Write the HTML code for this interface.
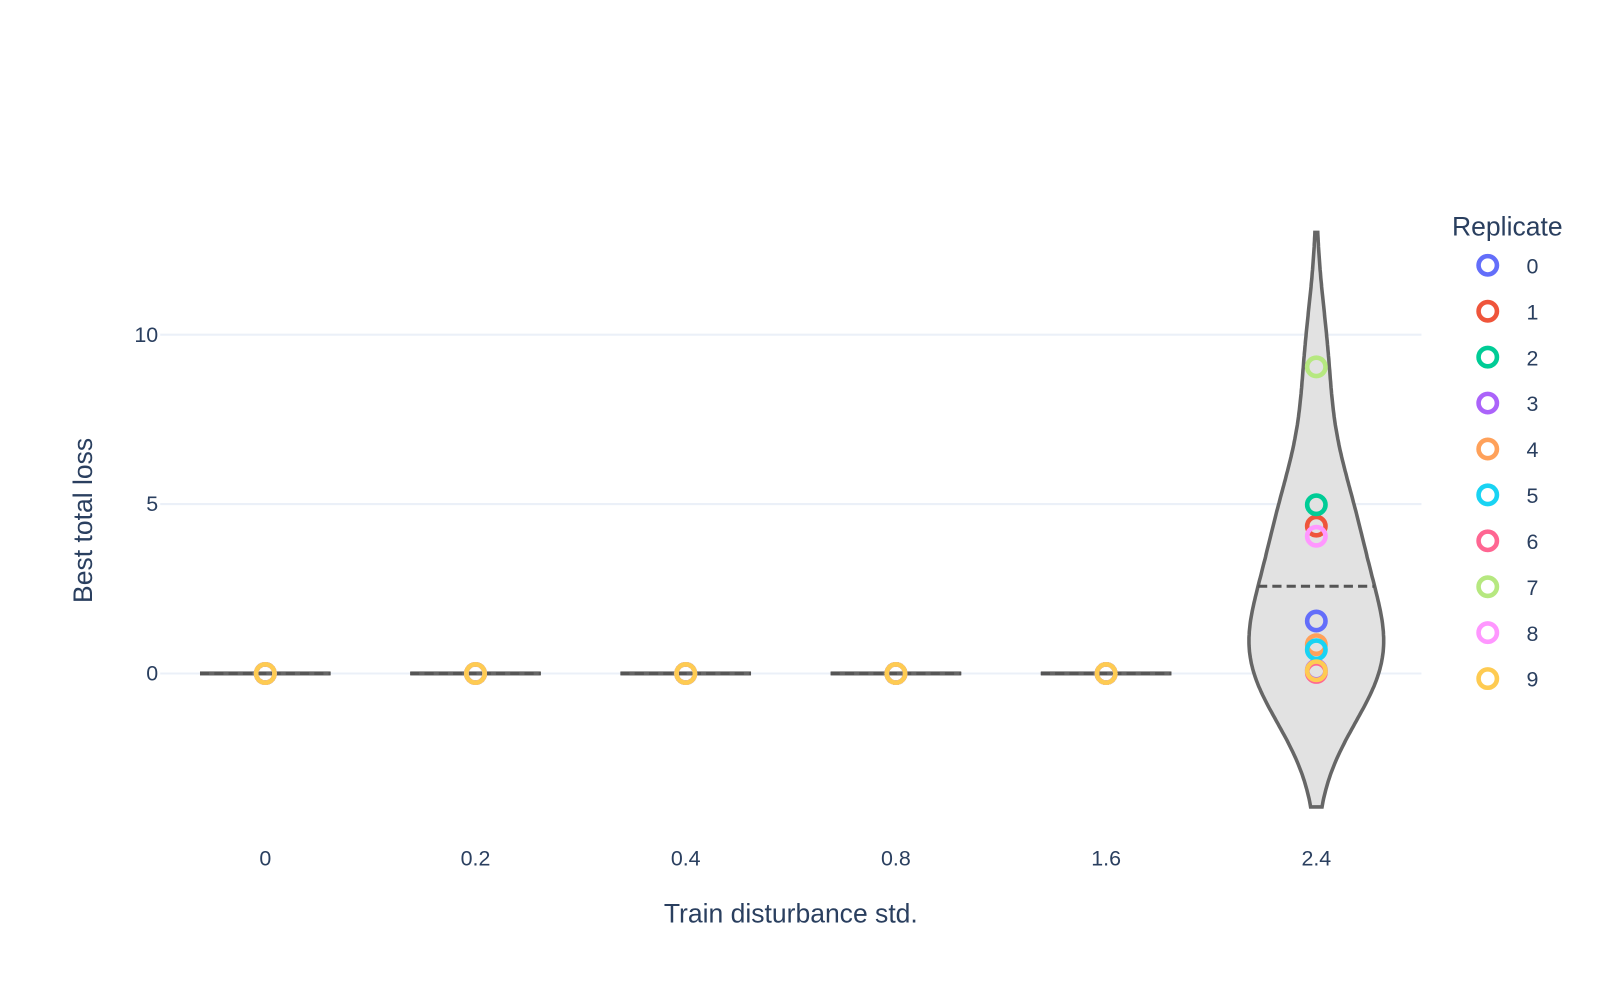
<!DOCTYPE html>
<html><head><meta charset="utf-8">
<style>
body{margin:0;background:#fff;}
svg{display:block;font-family:"Liberation Sans","DejaVu Sans",sans-serif;}
</style></head>
<body>
<svg id="chart" width="1600" height="1000" viewBox="0 0 1600 1000">
<rect width="1600" height="1000" fill="#fff"/>
<g transform="scale(1.020408)">
<g id="grid"></g><g id="violins"></g><g id="points"></g><g id="axes"></g><g id="legend"></g>
</g>
</svg>
<script>
const categories = ["0","0.2","0.4","0.8","1.6","2.4"];
const replicates = ["0","1","2","3","4","5","6","7","8","9"];
const colors = ["#636efa","#EF553B","#00cc96","#ab63fa","#FFA15A","#19d3f3","#FF6692","#B6E880","#FF97FF","#FECB52"];
// values[category][replicate]
const values0 = [0,0,0,0,0,0,0,0,0,0];
const values02 = [0,0,0,0,0,0,0,0,0,0];
const values04 = [0,0,0,0,0,0,0,0,0,0];
const values08 = [0,0,0,0,0,0,0,0,0,0];
const values16 = [0,0,0,0,0,0,0,0,0,0];
const values24 = [1.55,4.35,4.98,0.1,0.85,0.7,0.03,9.05,4.05,0.08];
const yTicks = [0,5,10];

const allValues = [values0,values02,values04,values08,values16,values24];
const NS = "http://www.w3.org/2000/svg";
function mk(tag, attrs, parent){const e=document.createElementNS(NS,tag);for(const k in attrs)e.setAttribute(k,attrs[k]);parent.appendChild(e);return e;}
const plotL=157, plotR=1393, x0=260, dx=206;
function xs(i){return x0+i*dx;}
function ys(v){return 660-v*33.2;}

const grid=document.getElementById('grid');
const axes=document.getElementById('axes');
yTicks.forEach(t=>{
  const l=mk('line',{x1:plotL,x2:plotR,y1:ys(t),y2:ys(t),stroke:'#ebf0f8','stroke-width':2},grid);
  
  
  const tx=mk('text',{x:155,y:ys(t)+7,'text-anchor':'end','font-size':21,fill:'#2a3f5f'},axes);
  tx.textContent=t;
  
  
});
categories.forEach((c,i)=>{
  const tx=mk('text',{x:xs(i),y:848,'text-anchor':'middle','font-size':21,fill:'#2a3f5f'},axes);
  tx.textContent=c;
  
  
});
const xt=mk('text',{x:775,y:904,'text-anchor':'middle','font-size':26,fill:'#2a3f5f'},axes);
xt.textContent='Train disturbance std.';


const yt=mk('text',{x:0,y:0,'text-anchor':'middle','font-size':26,fill:'#2a3f5f',transform:'translate(90,510) rotate(-90)'},axes);
yt.textContent='Best total loss';



const vg=document.getElementById('violins');
function stats(v){
  const n=v.length, m=v.reduce((a,b)=>a+b,0)/n;
  const sd=Math.sqrt(v.reduce((a,b)=>a+(b-m)*(b-m),0)/(n-1));
  const s=[...v].sort((a,b)=>a-b);
  const q=p=>{const idx=p*(n-1),lo=Math.floor(idx),hi=Math.ceil(idx);return s[lo]+(s[hi]-s[lo])*(idx-lo);};
  const iqr=q(0.75)-q(0.25);
  const bw=1.059*Math.min(sd,iqr/1.349)*Math.pow(n,-0.2);
  return {m,sd,bw,min:s[0],max:s[n-1]};
}
allValues.forEach((v,i)=>{
  const st=stats(v), cx=xs(i);
  if(!(st.bw>0)){
    const l=mk('line',{x1:cx-64,x2:cx+64,y1:ys(st.m),y2:ys(st.m),stroke:'#666','stroke-width':4},vg);
    
    
    const d=mk('line',{x1:cx-64,x2:cx+64,y1:ys(st.m),y2:ys(st.m),stroke:'#555','stroke-width':3,'stroke-dasharray':'9,5'},vg);
    
    
    return;
  }
  const lo=st.min-2*st.bw, hi=st.max+2*st.bw, N=200;
  const dens=[];
  for(let k=0;k<=N;k++){const y=lo+(hi-lo)*k/N;let s=0;v.forEach(x=>{const z=(y-x)/st.bw;s+=Math.exp(-0.5*z*z);});dens.push([y,s]);}
  const maxD=Math.max(...dens.map(d=>d[1]));
  const W=66;
  let pts=dens.map(d=>[cx+d[1]/maxD*W,ys(d[0])]);
  let left=dens.slice().reverse().map(d=>[cx-d[1]/maxD*W,ys(d[0])]);
  const path='M'+pts.concat(left).map(p=>p[0].toFixed(1)+','+p[1].toFixed(1)).join('L')+'Z';
  const p=mk('path',{d:path,fill:'#e2e2e2',stroke:'#666','stroke-width':3.5},vg);
  
  
  let dm=0;v.forEach(x=>{const z=(st.m-x)/st.bw;dm+=Math.exp(-0.5*z*z);});
  const hw=dm/maxD*W;
  const d=mk('line',{x1:cx-hw,x2:cx+hw,y1:ys(st.m),y2:ys(st.m),stroke:'#555','stroke-width':3,'stroke-dasharray':'9,5'},vg);
  
  
});

const pg=document.getElementById('points');
allValues.forEach((v,i)=>{
  v.forEach((val,r)=>{
    const c=mk('circle',{cx:xs(i),cy:ys(val),r:9,fill:'none',stroke:colors[r],'stroke-width':4.5},pg);
    
    
  });
});

const lg=document.getElementById('legend');
const lt=mk('text',{x:1423,y:231,'font-size':26,fill:'#2a3f5f'},lg);
lt.textContent='Replicate';


replicates.forEach((r,k)=>{
  const g=mk('g',{},lg);
  
  
  const y=260+45*k;
  mk('circle',{cx:1458,cy:y,r:9,fill:'none',stroke:colors[k],'stroke-width':4.5},g);
  const t=mk('text',{x:1496,y:y+8,'font-size':21,fill:'#2a3f5f'},g);
  t.textContent=r;
});
</script>
</body></html>
